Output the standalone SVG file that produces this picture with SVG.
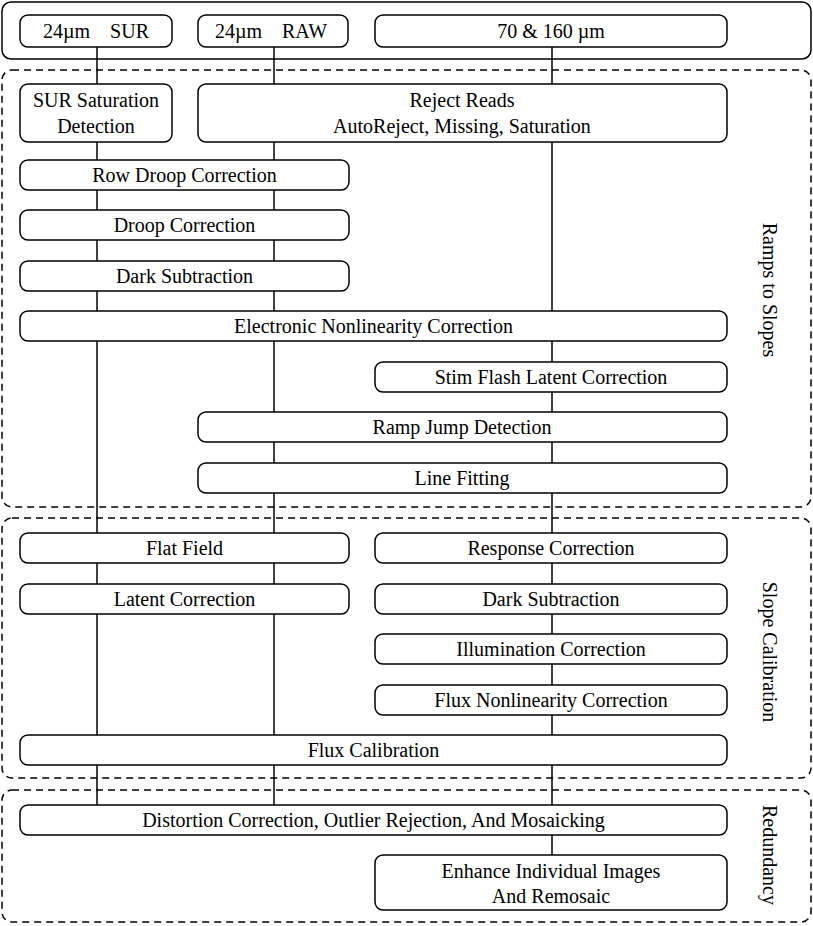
<svg xmlns="http://www.w3.org/2000/svg" width="813" height="926" viewBox="0 0 813 926" font-family="'Liberation Serif', 'DejaVu Serif', serif">
<style>
.n{fill:#fff;stroke:#000;stroke-width:1.5}
.g{fill:none;stroke:#000;stroke-width:1.5;stroke-dasharray:7,5}
.o{fill:none;stroke:#000;stroke-width:1.5}
.c line{stroke:#000;stroke-width:1.5}
text{font-family:'Liberation Serif','DejaVu Serif',serif;font-size:20px;fill:#000;text-anchor:middle}
</style>
<rect width="813" height="926" fill="#fff"/>
<rect class="o" x="2" y="2" width="809" height="57" rx="9"/>
<g id="groups">
<rect class="g" x="2" y="70" width="809" height="437" rx="10"/>
<rect class="g" x="2" y="518" width="809" height="260" rx="10"/>
<rect class="g" x="2" y="790" width="809" height="132" rx="10"/>
<text transform="translate(770,290) rotate(90)" y="7">Ramps to Slopes</text>
<text transform="translate(770,652) rotate(90)" y="7">Slope Calibration</text>
<text transform="translate(770,855) rotate(90)" y="7">Redundancy</text>
</g>
<g class="c" id="connectors">
<line x1="97" y1="47" x2="97" y2="805"/>
<line x1="274" y1="47" x2="274" y2="805"/>
<line x1="552" y1="47" x2="552" y2="855"/>
</g>
<g id="sur"><rect class="n" x="20" y="15" width="152" height="32" rx="8"/><text x="96" y="38" xml:space="preserve">24µm    SUR</text></g>
<g id="raw"><rect class="n" x="198" y="15" width="150" height="32" rx="8"/><text x="271" y="38" xml:space="preserve">24µm    RAW</text></g>
<g id="fir"><rect class="n" x="375" y="15" width="352" height="32" rx="8"/><text x="551" y="38">70 &amp; 160 µm</text></g>
<g id="sursat"><rect class="n" x="20" y="84" width="152" height="58" rx="8"/><text x="96" y="107">SUR Saturation</text><text x="96" y="133">Detection</text></g>
<g id="reject"><rect class="n" x="198" y="84" width="529" height="58" rx="8"/><text x="462" y="107">Reject Reads</text><text x="462" y="133">AutoReject, Missing, Saturation</text></g>
<g id="rowdroop"><rect class="n" x="20" y="160" width="329" height="30" rx="8"/><text x="184.5" y="182">Row Droop Correction</text></g>
<g id="droop"><rect class="n" x="20" y="210" width="329" height="30" rx="8"/><text x="184.5" y="232">Droop Correction</text></g>
<g id="dark1"><rect class="n" x="20" y="261" width="329" height="30" rx="8"/><text x="184.5" y="283">Dark Subtraction</text></g>
<g id="enl"><rect class="n" x="20" y="311" width="707" height="30" rx="8"/><text x="373.5" y="333">Electronic Nonlinearity Correction</text></g>
<g id="stim"><rect class="n" x="375" y="362" width="352" height="30" rx="8"/><text x="551" y="384">Stim Flash Latent Correction</text></g>
<g id="jump"><rect class="n" x="198" y="412" width="529" height="30" rx="8"/><text x="462" y="434">Ramp Jump Detection</text></g>
<g id="fit"><rect class="n" x="198" y="463" width="529" height="30" rx="8"/><text x="462" y="485">Line Fitting</text></g>
<g id="flat"><rect class="n" x="20" y="533" width="329" height="30" rx="8"/><text x="184.5" y="555">Flat Field</text></g>
<g id="resp"><rect class="n" x="375" y="533" width="352" height="30" rx="8"/><text x="551" y="555">Response Correction</text></g>
<g id="latent"><rect class="n" x="20" y="584" width="329" height="30" rx="8"/><text x="184.5" y="606">Latent Correction</text></g>
<g id="dark2"><rect class="n" x="375" y="584" width="352" height="30" rx="8"/><text x="551" y="606">Dark Subtraction</text></g>
<g id="illum"><rect class="n" x="375" y="634" width="352" height="30" rx="8"/><text x="551" y="656">Illumination Correction</text></g>
<g id="fluxnl"><rect class="n" x="375" y="685" width="352" height="30" rx="8"/><text x="551" y="707">Flux Nonlinearity Correction</text></g>
<g id="fluxcal"><rect class="n" x="20" y="735" width="707" height="30" rx="8"/><text x="373.5" y="757">Flux Calibration</text></g>
<g id="mosaic"><rect class="n" x="20" y="805" width="707" height="30" rx="8"/><text x="373.5" y="827">Distortion Correction, Outlier Rejection, And Mosaicking</text></g>
<g id="enhance"><rect class="n" x="375" y="855" width="352" height="55" rx="8"/><text x="551" y="878">Enhance Individual Images</text><text x="551" y="903">And Remosaic</text></g>
</svg>
